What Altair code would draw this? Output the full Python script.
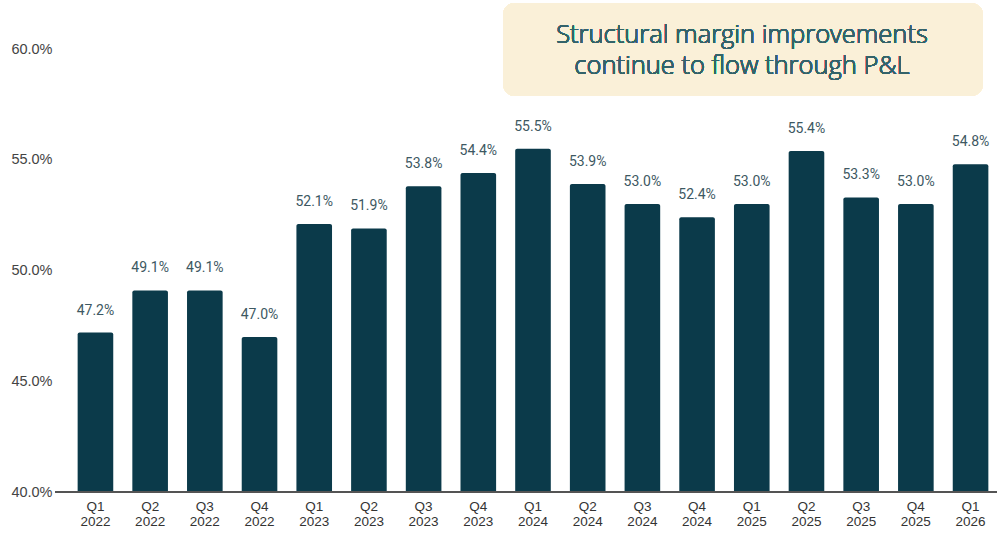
import altair as alt
import pandas as pd

quarters = ["Q1\n2022", "Q2\n2022", "Q3\n2022", "Q4\n2022",
            "Q1\n2023", "Q2\n2023", "Q3\n2023", "Q4\n2023",
            "Q1\n2024", "Q2\n2024", "Q3\n2024", "Q4\n2024",
            "Q1\n2025", "Q2\n2025", "Q3\n2025", "Q4\n2025",
            "Q1\n2026"]
margins = [47.2, 49.1, 49.1, 47.0, 52.1, 51.9, 53.8, 54.4, 55.5,
           53.9, 53.0, 52.4, 53.0, 55.4, 53.3, 53.0, 54.8]
y_ticks = [40, 45, 50, 55, 60]
callout_lines = ["Structural margin improvements", "continue to flow through P&L"]

df = pd.DataFrame({"quarter": quarters, "margin": margins})
df["label"] = [f"{v:.1f}%" for v in margins]

W, H = 928, 443

x_enc = alt.X("quarter:N", sort=quarters,
              scale=alt.Scale(paddingInner=0.349, paddingOuter=0.158),
              axis=alt.Axis(title=None, labelAngle=0, domain=False, ticks=False,
                            labelExpr="split(datum.label, '\\n')",
                            labelFont="Liberation Sans", labelFontSize=13.5,
                            labelColor="#333333", labelLineHeight=15,
                            labelPadding=7))
y_enc = alt.Y("margin:Q", scale=alt.Scale(domain=[40, 60], zero=False, nice=False),
              axis=alt.Axis(title=None, values=y_ticks, grid=False, domain=False,
                            ticks=False, labelPadding=17,
                            labelExpr="format(datum.value, '.1f') + '%'",
                            labelFont="Liberation Sans", labelFontSize=14.5,
                            labelColor="#444444"))

base = alt.Chart(df)

bars = base.mark_bar(color="#0b3a4a", cornerRadiusTopLeft=2,
                     cornerRadiusTopRight=2).encode(
    x=x_enc, y=y_enc, y2=alt.datum(40))

labels = base.mark_text(font="Roboto", fontSize=14, color="#3d5862",
                        baseline="middle", dy=-22).encode(
    x=alt.X("quarter:N", sort=quarters), y="margin:Q", text="label:N")

axis_line = base.mark_rule(color="#555555", strokeWidth=1.5).encode(
    x=alt.value(-14), x2=alt.value(W), y=alt.value(H))

box = base.mark_rect(color="#faf0d8", cornerRadius=12).encode(
    x=alt.value(434), x2=alt.value(914), y=alt.value(-46), y2=alt.value(47))

callout = base.mark_text(text=callout_lines, font="Open Sans", fontSize=25.5,
                         fontWeight=300, fill="#33636a", align="center",
                         baseline="middle", lineHeight=31).encode(
    x=alt.value(673), y=alt.value(-14))

chart = alt.layer(box, bars, labels, axis_line, callout).properties(
    width=W, height=H,
    autosize=alt.AutoSizeParams(type="none"),
    padding={"left": 69, "top": 49, "right": 1, "bottom": 43},
).configure_view(stroke=None)

chart.save("out.html", embed_options={"renderer": "svg", "actions": False})
